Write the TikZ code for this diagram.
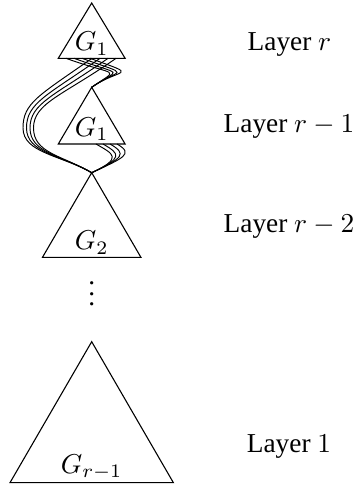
\documentclass[tikz,border=0pt]{standalone}
\usepackage{amsmath,amssymb}
\usepackage{fontspec}
\setmainfont{Liberation Serif}
\usetikzlibrary{calc}

\begin{document}
\begin{tikzpicture}[
    x=0.3663pt, y=0.3663pt,
    every node/.style={font=\normalsize},
    tri/.style={draw=black, line width=0.4pt},
    glab/.style={anchor=south, inner sep=1pt},
    lay/.style={inner sep=0pt},
    wire/.style={line width=0.35pt}
]
\useasboundingbox (0,0) rectangle (356,488);

% the four sub-circuits, apex and base corners
\coordinate (a1) at (91.7,485);   \coordinate (l1) at (58.3,429.7);  \coordinate (r1) at (125.1,429.7);
\coordinate (a2) at (91.7,400.7); \coordinate (l2) at (58.3,344);    \coordinate (r2) at (125.1,344);
\coordinate (a3) at (91.7,315.3); \coordinate (l3) at (42.5,230.7);  \coordinate (r3) at (140.9,230.7);
\coordinate (a4) at (91.7,146.3); \coordinate (l4) at (10,5.3);      \coordinate (r4) at (173.4,5.3);

\draw[tri] (a1) -- (l1) -- (r1) -- cycle;
\draw[tri] (a2) -- (l2) -- (r2) -- cycle;
\draw[tri] (a3) -- (l3) -- (r3) -- cycle;
\draw[tri] (a4) -- (l4) -- (r4) -- cycle;

\node[glab] (g1)  at ($(l1)!0.5!(r1)$) {$G_1$};
\node[glab] (g1b) at ($(l2)!0.5!(r2)$) {$G_1$};
\node[glab] (g2)  at ($(l3)!0.5!(r3)$) {$G_2$};
\node[glab] (gr)  at ($(l4)!0.5!(r4)$) {$G_{r-1}$};
\node[anchor=base, inner sep=0pt] (dots) at (91.7,182) {$\vdots$};

\node[lay] (lr)  at (289.5,443) {Layer $r$};
\node[lay] (lr1) at (289,361)   {Layer $r-1$};
\node[lay] (lr2) at (289,261)   {Layer $r-2$};
\node[lay] (l1x) at (289,41)    {Layer $1$};

% wires from layer r into layer r-1
\foreach \f in {0.115,0.235,0.355,0.475}
  \draw[wire] ($(l1)!\f!(r1)$) .. controls +(-20:55) and +(35:35) .. (a2);
% wires from layer r round to layer r-2
\foreach \f/\L in {0.505/23,0.625/26.5,0.745/30,0.865/33.5}
  \draw[wire] ($(l1)!\f!(r1)$) .. controls +(-145:65) and +(90:25) .. (\L,360)
              .. controls +(-90:25) and +(150:35) .. (a3);
% wires from layer r-1 into layer r-2
\foreach \f in {0.564,0.669,0.774,0.879}
  \draw[wire] ($(l2)!\f!(r2)$) .. controls +(-30:20) and +(25:35) .. (a3);
\end{tikzpicture}
\end{document}
